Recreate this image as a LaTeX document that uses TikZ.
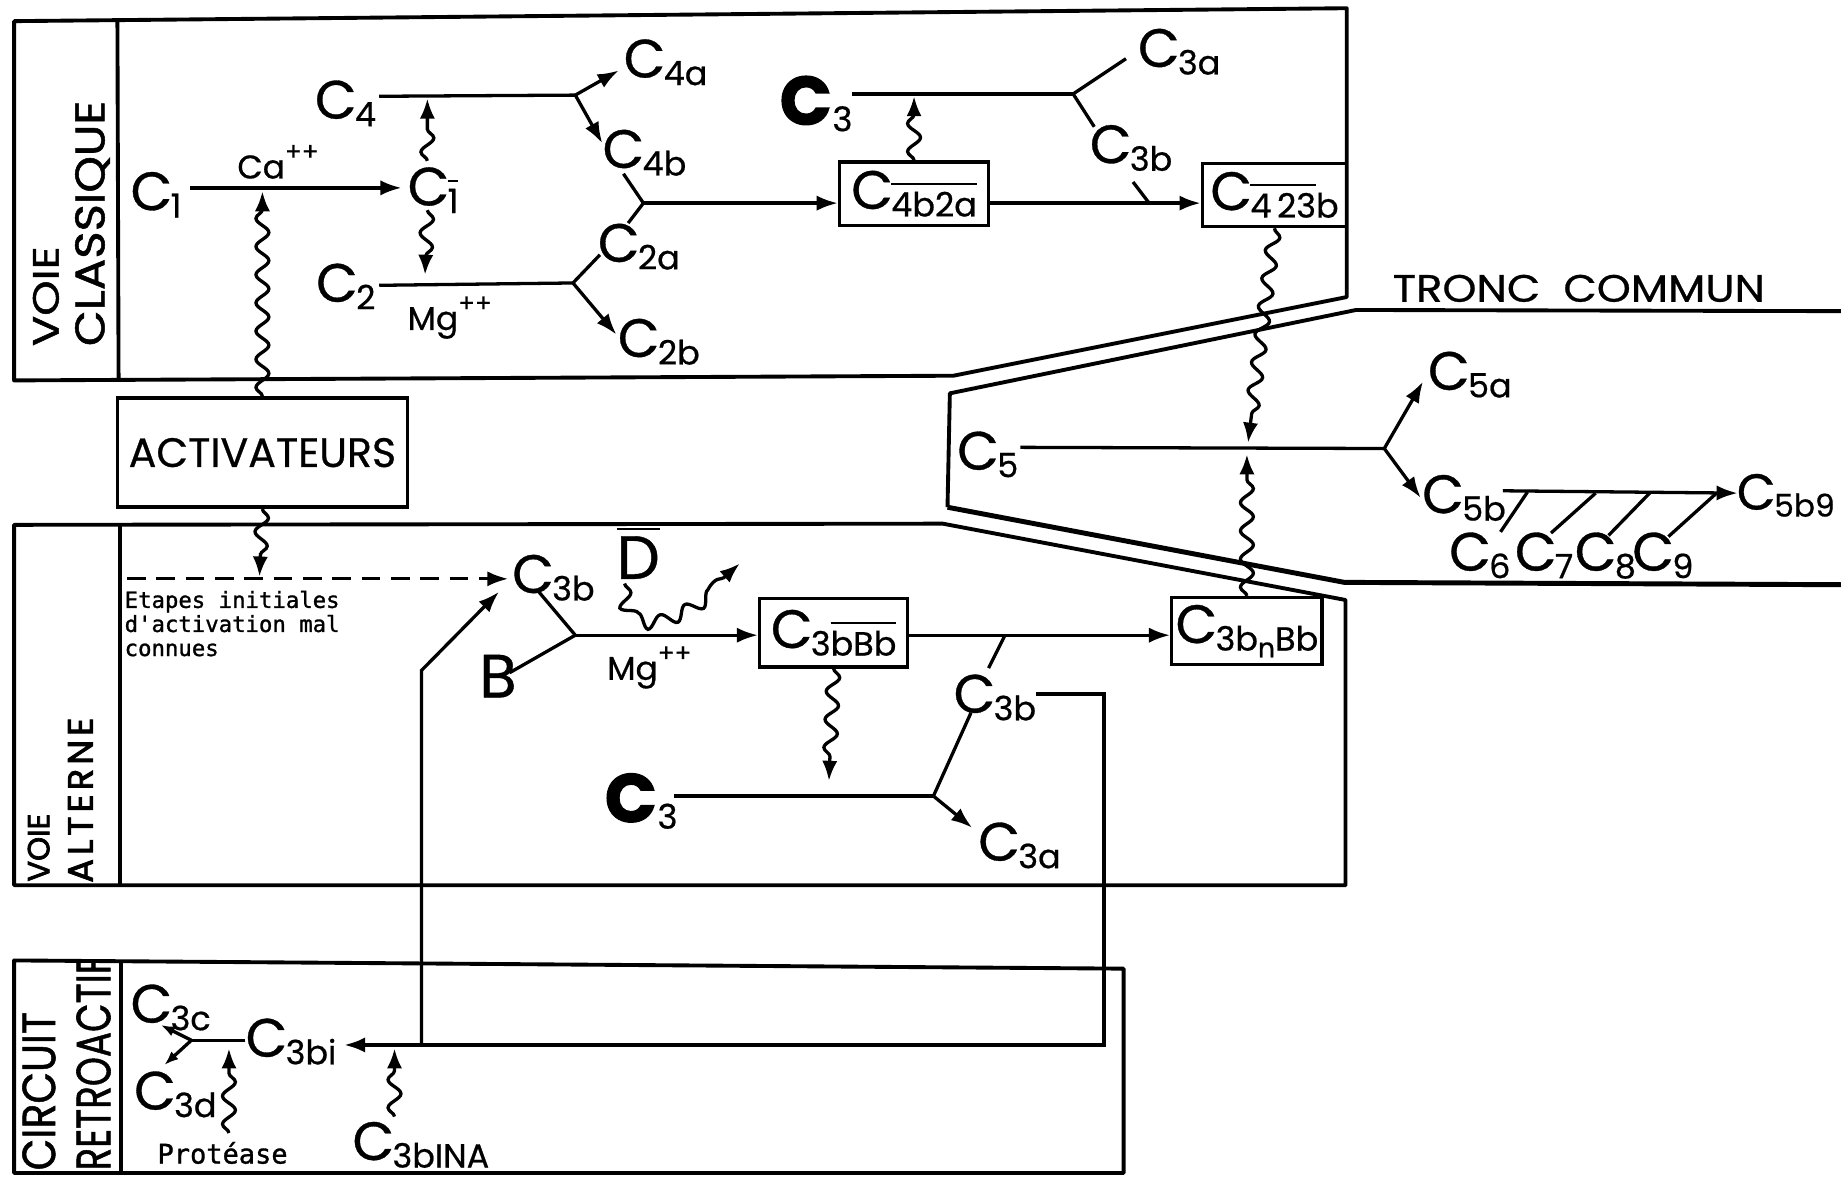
\documentclass[tikz,border=0pt]{standalone}
\usepackage{fontspec}
\usepackage{graphicx}
\setmainfont{Poppins}[FakeBold=0.6]
\newfontfamily\heavyfont{Poppins}[BoldFeatures={FakeBold=2}]
\newfontfamily\colfont{Poppins}[FakeBold=1.2]
\newfontfamily\colfontb{Poppins}[FakeBold=2.4]
\newfontfamily\monofont{DejaVu Sans Mono}[FakeBold=1.2]
\usetikzlibrary{arrows.meta,decorations.pathmorphing}
\newcommand\ovl[1]{\vbox{\hrule height 0.07em\kern0.2em\hbox{#1}}}
\newcommand\Cs[1]{C\kern-0.03em\raisebox{-0.14em}{\scalebox{0.62}{#1}}}
\newcommand\CB[1]{{\heavyfont\bfseries C}\kern0.01em\raisebox{-0.1em}{\scalebox{0.5}{#1}}}
\newcommand\pp{\raisebox{0.55em}{\scalebox{0.75}{++}}}
\newcommand\labfont{\fontsize{46}{50}\selectfont}
\newcommand\bigfont{\fontsize{58}{60}\selectfont}
\newcommand\Bfont{\fontsize{52}{54}\selectfont}
\newcommand\smfont{\fontsize{28}{30}\selectfont}
\begin{document}
\begin{tikzpicture}[x=1pt,y=-1pt,
  ln/.style={line width=2.8pt},
  thk/.style={line width=3.3pt,line join=round},
  arr/.style={ln,-{Latex[length=18pt,width=13pt]}},
  sarr/.style={ln,-{Latex[length=12pt,width=9pt]}},
  wavy/.style={ln,decorate,decoration={snake,amplitude=5.5pt,segment length=24pt,post length=15pt}},
  warr/.style={wavy,-{Latex[length=17pt,width=13pt]}},
  lab/.style={inner sep=0pt,anchor=base west,font=\labfont},
  bx/.style={draw,line width=2.8pt,inner sep=0pt,font=\labfont},
  vlab/.style={inner sep=0pt,anchor=base west,rotate=90,font=\colfont},
]
\fill[white] (0,0) rectangle (1568,1002);
\useasboundingbox (0,0) rectangle (1568,1002);

% ---------- frames ----------
\draw[thk] (12,18) -- (1147,7) -- (1147,253) -- (812,320) -- (12,324) -- cycle;
\draw[thk] (100,17) -- (101,324);
\draw[thk] (1568,265) -- (1155,264) -- (809,335) -- (807,432);
\draw[line width=4.2pt,line join=round] (807,432) -- (1145,496) -- (1568,498);
\draw[thk] (12,447) -- (803,446) -- (1146,511) -- (1146,754) -- (12,754) -- cycle;
\draw[thk] (102,447) -- (102,754);
\draw[thk] (12,818) -- (957,825) -- (957,999) -- (12,999) -- cycle;
\draw[thk] (103,818) -- (103,999);

% ---------- column labels ----------
\node[vlab] (vc1) at (50,295) {\resizebox{85pt}{22pt}{VOIE}};
\node[vlab] (vc2) at (89,295) {\resizebox{209pt}{25pt}{CLASSIQUE}};
\node[vlab,font=\colfontb\fontsize{26}{28}\selectfont] (va1) at (42,751) {VOIE};
\node[vlab,font=\colfontb\fontsize{30}{32}\selectfont] (va2) at (79,752) {A\kern3.5pt L\kern3.5pt T\kern3.5pt E\kern3.5pt R\kern3.5pt N\kern3.5pt E};
\begin{scope}
\clip (12,821) rectangle (103,999);
\node[vlab] (cr1) at (47,997) {\resizebox{135pt}{28pt}{CIRCUIT}};
\node[vlab] (cr2) at (94,997) {\resizebox{183pt}{29pt}{RETROACTIF}};
\end{scope}

% ---------- boxes ----------
\node[bx,minimum width=127pt,minimum height=54pt] (b1) at (778.5,165) {\Cs{\ovl{4b2a}}};
\node[bx,minimum width=123pt,minimum height=54pt] (b2) at (1085.5,166) {\Cs{\ovl{4\,23}b}};
\node[bx,minimum width=126pt,minimum height=58pt] (b3) at (710,539) {\Cs{3\ovl{bBb}}};
\node[bx,minimum width=128pt,minimum height=57pt] (b4) at (1062,537.5) {\Cs{3b\raisebox{-0.2em}{\scalebox{0.8}{n}}Bb}};
\node[draw,line width=3pt,minimum width=247pt,minimum height=93pt,font=\fontsize{35}{38}\selectfont] (act) at (223.5,385.5) {ACTIVATEURS};

% ---------- labels: voie classique ----------
\node[lab] (C1) at (111,179) {\Cs{1}};
\node[lab] (C1b) at (347,175) {\Cs{\ovl{1}}};
\node[lab] (C4) at (268,101) {\Cs{4}};
\node[lab] (C2) at (269,257) {\Cs{2}};
\node[lab] (C4a) at (531,66) {\Cs{4a}};
\node[lab] (C4b) at (513,143) {\Cs{4b}};
\node[lab] (C2a) at (509,223) {\Cs{2a}};
\node[lab] (C2b) at (526,304) {\Cs{2b}};
\node[lab,font=\bigfont] (C3t) at (664,106) {\CB{3}};
\node[lab] (C3at) at (969,57) {\Cs{3a}};
\node[lab] (C3bt) at (928,139) {\Cs{3b}};
\node[lab,font=\smfont] (Ca) at (202,152) {Ca\pp};
\node[lab,font=\smfont] (Mg1) at (347,281) {Mg\pp};

% ---------- tronc commun ----------
\node[lab,font=\fontsize{34}{36}\selectfont] (tc) at (1186,257) {\resizebox{317pt}{23pt}{TRONC\ \ COMMUN}};
\node[lab] (C5) at (815,400) {\Cs{5}};
\node[lab] (C5a) at (1216,332) {\Cs{5a}};
\node[lab] (C5b) at (1211,437) {\Cs{5b}};
\node[lab,font=\fontsize{43}{46}\selectfont] (C5b9) at (1479,434) {\Cs{5b9}};
\node[lab] (C6) at (1234,486) {\Cs{6}};
\node[lab] (C7) at (1290,486) {\Cs{7}};
\node[lab] (C8) at (1341,486) {\Cs{8}};
\node[lab] (C9) at (1390,486) {\Cs{9}};

% ---------- voie alterne ----------
\node[inner sep=0pt,anchor=north west,align=left,font=\monofont\fontsize{19}{20.5}\selectfont] (etap) at (106,503) {Etapes initiales\\d'activation mal\\connues};
\node[lab] (C3ba) at (436,505) {\Cs{3b}};
\node[lab,font=\Bfont] (B) at (408,594) {B};
\node[lab,font=\Bfont] (D) at (525,493) {\vbox{\hrule height 2pt\kern5pt\hbox{D}}};
\node[lab,font=\smfont] (Mg2) at (517,579) {Mg\pp};
\node[lab] (C3bl) at (812,607) {\Cs{3b}};
\node[lab,font=\bigfont] (C3l) at (515,700) {\CB{3}};
\node[lab] (C3al) at (833,733) {\Cs{3a}};

% ---------- circuit retroactif ----------
\node[lab] (C3c) at (111,871) {\Cs{3c}};
\node[lab] (C3d) at (114,945) {\Cs{3d}};
\node[lab] (C3bi) at (209,900) {\Cs{3bi}};
\node[lab] (C3bINA) at (300,988) {\Cs{3bINA}};
\node[inner sep=0pt,anchor=base west,font=\monofont\fontsize{23}{25}\selectfont] (prot) at (134,991) {Protéase};

% ---------- coordinates ----------
\coordinate (c1s) at (162,160);  \coordinate (c1t) at (342,160);
\coordinate (t1) at (223.5,163);
\coordinate (w1a) at (364,137); \coordinate (w1b) at (364,84);
\coordinate (w1c) at (364,179); \coordinate (w1d) at (362,234);
\coordinate (c4s) at (323,82);  \coordinate (j4) at (490,81);
\coordinate (c4at) at (527,60); \coordinate (c4bt) at (513,122);
\coordinate (c4be) at (531,148); \coordinate (j42) at (548,173);
\coordinate (c2ae) at (535,190);
\coordinate (c2s) at (323,243); \coordinate (j2) at (488,241);
\coordinate (c2ae2) at (511,217); \coordinate (c2bt) at (525,285);
\coordinate (c3s) at (726,80);  \coordinate (j3) at (914,80);
\coordinate (c3ae) at (959,50); \coordinate (c3be) at (932,108);
\coordinate (t2) at (778.5,82);
\coordinate (c3bq) at (965,155); \coordinate (c3bq2) at (978,172);
\coordinate (t5a) at (1063,377); \coordinate (t5b) at (1062,387);
\coordinate (c5s) at (869,381); \coordinate (j5) at (1179,382);
\coordinate (c5at) at (1212,325); \coordinate (c5bt) at (1210,424);
\coordinate (c5bs) at (1280,418); \coordinate (c5b9t) at (1480,420);
\coordinate (k6a) at (1278,453); \coordinate (k6b) at (1301,419);
\coordinate (k7a) at (1321,454); \coordinate (k7b) at (1359,420);
\coordinate (k8a) at (1370,456); \coordinate (k8b) at (1405,420);
\coordinate (k9a) at (1421,457); \coordinate (k9b) at (1462,420);
\coordinate (t3) at (221,491);
\coordinate (ds) at (108,493);  \coordinate (dt) at (433,493);
\coordinate (c3bae) at (458,503); \coordinate (be) at (434,573);
\coordinate (jA) at (490,541);
\coordinate (Dw0) at (532,497); \coordinate (Dw1) at (630,480);
\coordinate (t6) at (706,665);
\coordinate (q1) at (842,569);  \coordinate (q2) at (856,541);
\coordinate (c3blb) at (827,607); \coordinate (jC) at (795,678);
\coordinate (c3ls) at (574,678); \coordinate (c3alt) at (828,705);
\coordinate (fb1) at (882,591); \coordinate (fb2) at (940,591);
\coordinate (fb3) at (940,890); \coordinate (fbt) at (293,890);
\coordinate (fb4) at (359,890); \coordinate (fb5) at (359,571);
\coordinate (fbt2) at (425,504);
\coordinate (c3bil) at (209,886); \coordinate (jR) at (163,886);
\coordinate (c3ct) at (137,873); \coordinate (c3dt) at (140,907);
\coordinate (pw0) at (195,965); \coordinate (pw1) at (195,893);
\coordinate (iw0) at (336,951); \coordinate (iw1) at (336,893);

% ---------- connectors: voie classique ----------
\draw[arr] (c1s) -- (c1t);
\draw[warr] (act.north) -- (t1);
\draw[warr] (w1a) -- (w1b);
\draw[warr] (w1c) -- (w1d);
\draw[ln] (c4s) -- (j4);
\draw[arr] (j4) -- (c4at);
\draw[arr] (j4) -- (c4bt);
\draw[ln] (c4be) -- (j42);
\draw[ln] (c2ae) -- (j42);
\draw[arr] (j42) -- (j42 -| b1.west);
\draw[ln] (c2s) -- (j2);
\draw[ln] (j2) -- (c2ae2);
\draw[arr] (j2) -- (c2bt);
\draw[ln] (c3s) -- (j3);
\draw[ln] (j3) -- (c3ae);
\draw[ln] (j3) -- (c3be);
\draw[warr] (b1.north) -- (t2);
\draw[arr] (b1.east |- j42) -- (b2.west |- j42);
\draw[ln] (c3bq) -- (c3bq2);
\draw[warr] (b2.south) -- (t5a);

% ---------- connectors: tronc commun ----------
\draw[ln] (c5s) -- (j5);
\draw[arr] (j5) -- (c5at);
\draw[arr] (j5) -- (c5bt);
\draw[arr] (c5bs) -- (c5b9t);
\draw[ln] (k6a) -- (k6b);
\draw[ln] (k7a) -- (k7b);
\draw[ln] (k8a) -- (k8b);
\draw[ln] (k9a) -- (k9b);
\draw[warr] (b4.north) -- (t5b);

% ---------- connectors: voie alterne ----------
\draw[warr] (act.south) -- (t3);
\draw[arr,dash pattern=on 16pt off 9pt] (ds) -- (dt);
\draw[ln] (c3bae) -- (jA);
\draw[ln] (be) -- (jA);
\draw[arr] (jA) -- (jA -| b3.west);
\draw[warr] (Dw0) .. controls (531,545) and (585,522) .. (Dw1);
\draw[arr] (b3.east |- jA) -- (b4.west |- jA);
\draw[ln] (q1) -- (q2);
\draw[warr] (b3.south) -- (t6);
\draw[ln] (c3blb) -- (jC);
\draw[ln] (c3ls) -- (jC);
\draw[arr] (jC) -- (c3alt);

% ---------- feedback ----------
\draw[arr,line width=3.2pt] (fb1) -- (fb2) -- (fb3) -- (fbt);
\draw[arr] (fb4) -- (fb5) -- (fbt2);
\draw[ln] (c3bil) -- (jR);
\draw[sarr] (jR) -- (c3ct);
\draw[sarr] (jR) -- (c3dt);
\draw[warr] (pw0) -- (pw1);
\draw[warr] (iw0) -- (iw1);
\end{tikzpicture}
\end{document}
